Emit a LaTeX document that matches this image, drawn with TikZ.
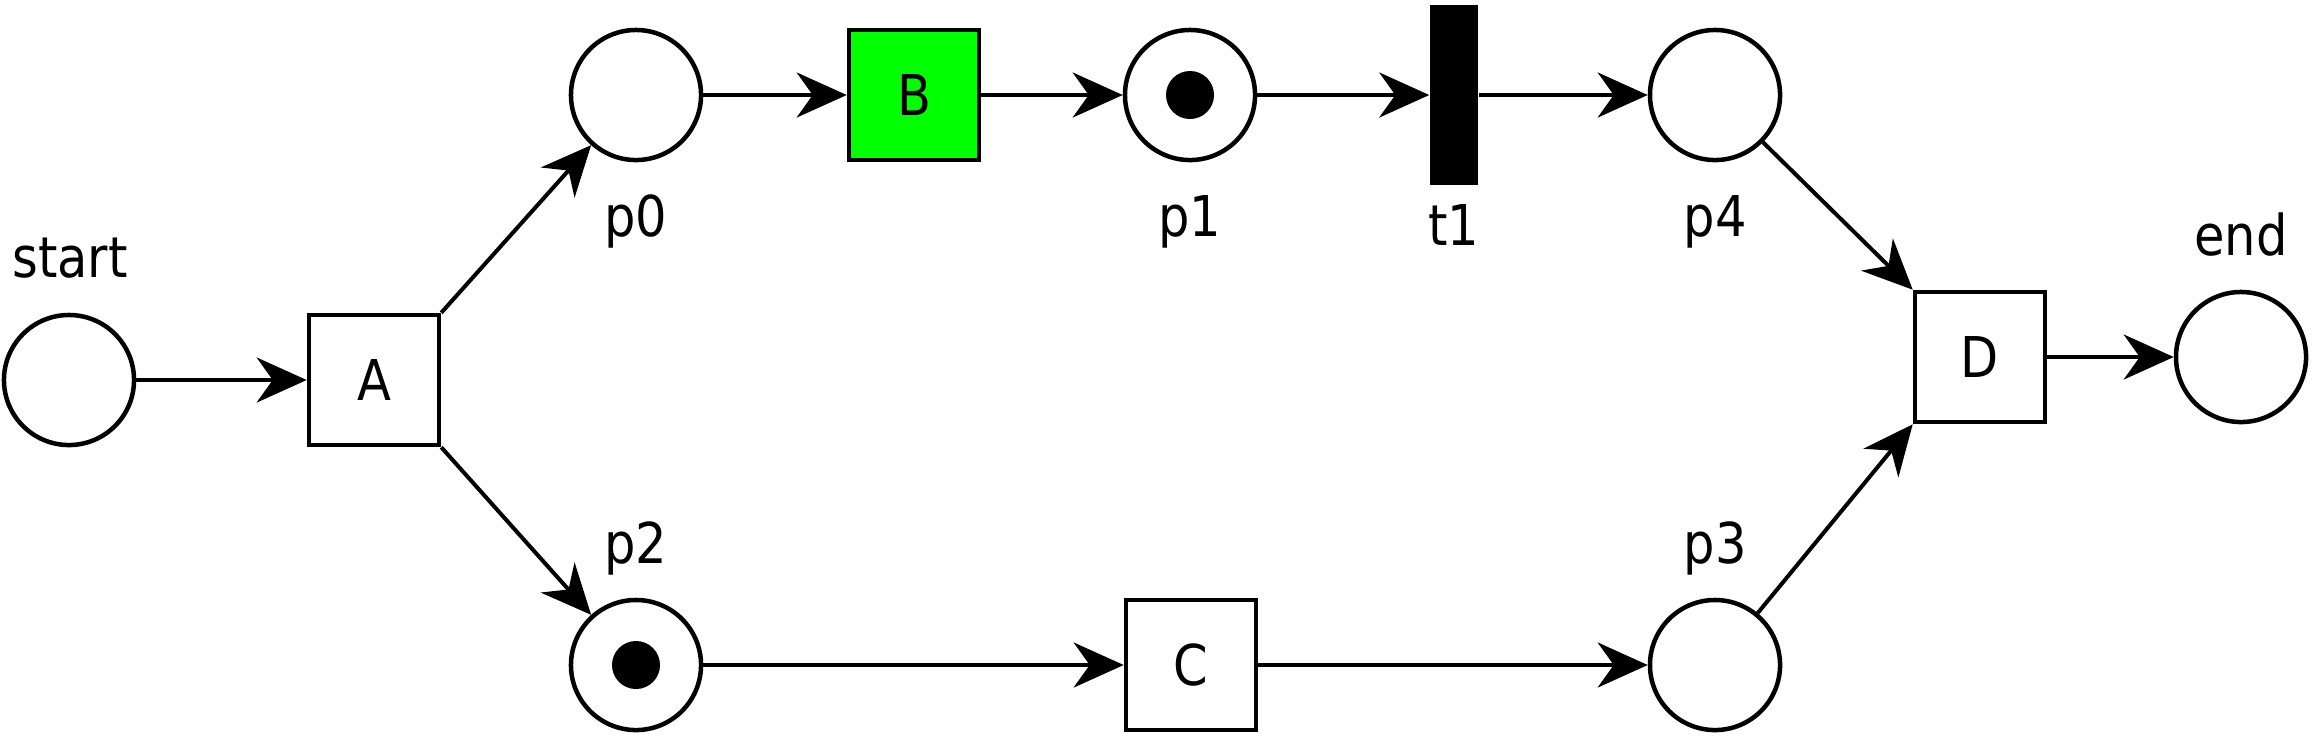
\documentclass[tikz,border=0pt]{standalone}
\usepackage{fontspec}
\setmainfont{DejaVu Sans}[FakeStretch=0.88]
\usetikzlibrary{arrows.meta}
\definecolor{tgreen}{RGB}{0,255,0}
\begin{document}
\begin{tikzpicture}[x=0.01cm,y=-0.01cm,
 place/.style={circle,draw,line width=0.045cm,minimum size=1.30cm,inner sep=0},
 trans/.style={rectangle,draw,line width=0.045cm,minimum size=1.30cm,inner sep=0,font=\fontsize{16}{19}\selectfont},
 bar/.style={rectangle,fill=black,minimum width=0.48cm,minimum height=1.79cm,inner sep=0},
 tok/.style={circle,fill=black,minimum size=0.48cm,inner sep=0},
 lbl/.style={anchor=base,inner sep=0,font=\fontsize{16}{19}\selectfont},
 arc/.style={line width=0.04cm,-{Stealth[length=0.5cm,width=0.45cm,inset=0.16cm]}}]
\useasboundingbox (0,0) rectangle (2313,738);
% places
\node[place] (pstart) at (69,380) {};
\node[place] (p0) at (636,95) {};
\node[place] (p1) at (1190,95) {};
\node[place] (p4) at (1715,95) {};
\node[place] (p2) at (636,665) {};
\node[place] (p3) at (1715,665) {};
\node[place] (pend) at (2241,357) {};
\node[tok] (tok1) at (1190,95) {};
\node[tok] (tok2) at (636,665) {};
% transitions
\node[trans] (A) at (374,380) {A};
\node[trans,fill=tgreen] (B) at (914,95) {B};
\node[trans] (C) at (1191,665) {C};
\node[trans] (D) at (1980,357) {D};
\node[bar] (t1) at (1454,95) {};
% labels
\node[lbl] (lstart) at (70,277) {start};
\node[lbl] (lp0) at (636,236) {p0};
\node[lbl] (lp1) at (1190,236) {p1};
\node[lbl] (lt1) at (1454,245) {t1};
\node[lbl] (lp4) at (1715,236) {p4};
\node[lbl] (lend) at (2241,255) {end};
\node[lbl] (lp2) at (636,563) {p2};
\node[lbl] (lp3) at (1715,563) {p3};
% arcs
\draw[arc] (pstart) -- (A);
\draw[arc] (A.north east) -- (p0);
\draw[arc] (A.south east) -- (p2);
\draw[arc] (p0) -- (B);
\draw[arc] (B) -- (p1);
\draw[arc] (p1) -- (t1);
\draw[arc] (t1) -- (p4);
\draw[arc] (p4) -- (D.north west);
\draw[arc] (D) -- (pend);
\draw[arc] (p2) -- (C);
\draw[arc] (C) -- (p3);
\draw[arc] (p3) -- (D.south west);
\end{tikzpicture}
\end{document}
